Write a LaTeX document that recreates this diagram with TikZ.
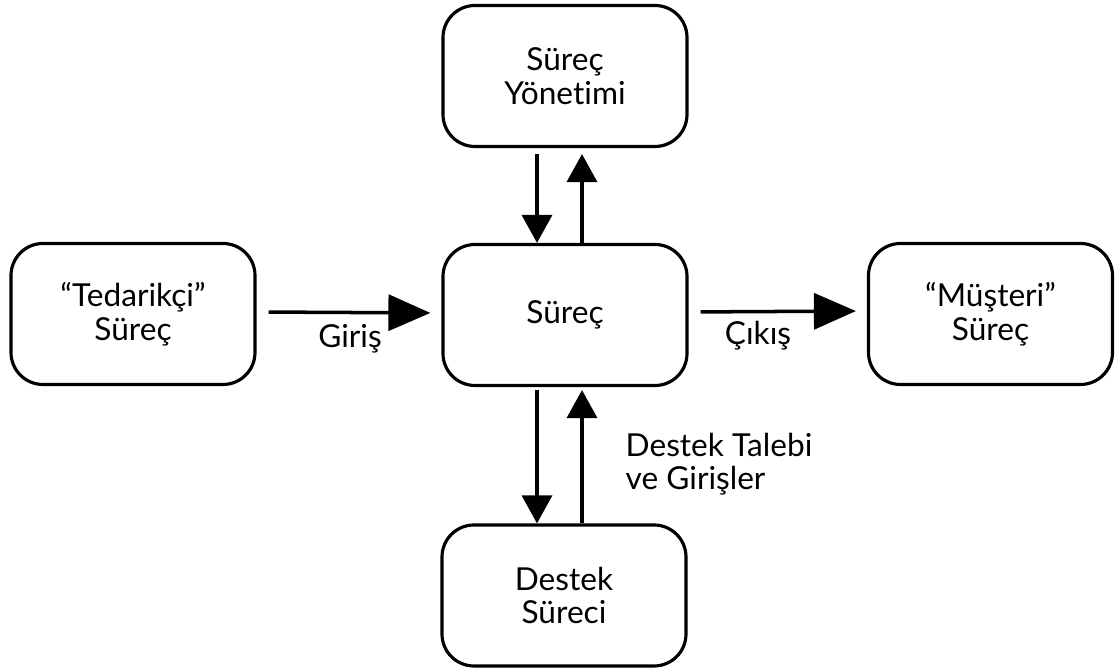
\documentclass[tikz,border=0pt]{standalone}
\usepackage{fontspec}
\setmainfont{Lato}[Ligatures=NoCommon]
\usetikzlibrary{arrows.meta}

\tikzset{
  kutu/.style={draw, line width=0.9pt, rounded corners=0.32cm, fill=white,
    minimum width=2.44cm, minimum height=1.41cm, align=center,
    font=\fontsize{9}{9.6}\selectfont},
  yazi/.style={font=\fontsize{9}{9.5}\selectfont, inner sep=0pt},
  dikok/.style={line width=1pt, -{Triangle[length=0.28cm,width=0.3cm]}},
  yatayok/.style={line width=1pt, -{Triangle[length=0.42cm,width=0.36cm]},
    shorten <=0.12cm, shorten >=0.11cm}
}

\begin{document}
\begin{tikzpicture}
  \useasboundingbox (0,0) rectangle (11.19,6.70);

  % kutular
  \node[kutu] (yonetim) at (5.65,5.94) {Süreç\\Yönetimi};
  \node[kutu] (surec) at (5.65,3.55) {Süreç};
  \node[kutu] (tedarikci) at (1.33,3.56) {“Tedarikçi”\\Süreç};
  \node[kutu] (musteri) at (9.905,3.56) {“Müşteri”\\Süreç};
  \node[kutu] (destek) at (5.64,0.745) {Destek\\Süreci};

  % yonetim ile surec arasi
  \draw[dikok] ([xshift=-0.28cm,yshift=-0.06cm]yonetim.south) -- ([xshift=-0.28cm]surec.north);
  \draw[dikok] ([xshift=0.17cm]surec.north) -- ([xshift=0.17cm,yshift=-0.06cm]yonetim.south);

  % surec ile destek arasi
  \draw[dikok] ([xshift=-0.28cm,yshift=-0.03cm]surec.south) -- ([xshift=-0.27cm]destek.north);
  \draw[dikok] ([xshift=0.18cm]destek.north) -- ([xshift=0.17cm,yshift=-0.03cm]surec.south);

  % giris ve cikis
  \draw[yatayok] ([yshift=0.02cm]tedarikci.east) -- ([yshift=0.02cm]surec.west);
  \draw[yatayok] ([yshift=0.03cm]surec.east) -- ([yshift=0.03cm]musteri.west);

  % etiketler
  \node[yazi, anchor=base] (giris) at (3.50,3.22) {Giriş};
  \node[yazi, anchor=base] (cikis) at (7.58,3.25) {Çıkış};
  \node[yazi, anchor=base west, align=left] (talep) at (6.25,1.80) {Destek Talebi\\ve Girişler};
\end{tikzpicture}
\end{document}
